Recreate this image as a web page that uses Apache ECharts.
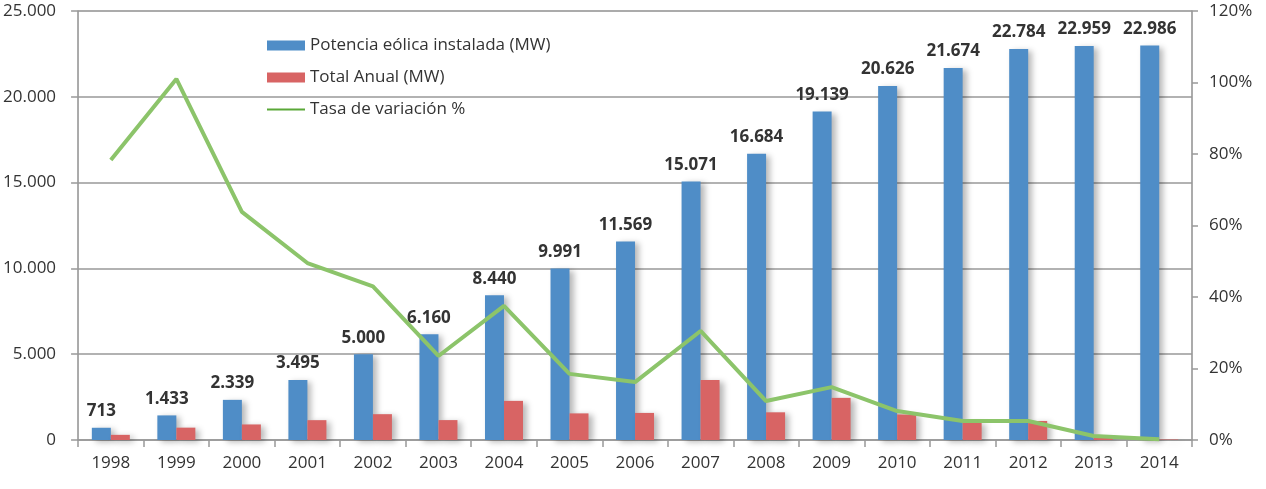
<!DOCTYPE html>
<html><head><meta charset="utf-8">
<script src="https://cdn.jsdelivr.net/npm/echarts@6/dist/echarts.min.js"></script>
<style>html,body{margin:0;padding:0;background:#fff}#c{width:1266px;height:489px}</style>
</head><body><div id="c"></div>
<script>
const years = ['1998','1999','2000','2001','2002','2003','2004','2005','2006','2007','2008','2009','2010','2011','2012','2013','2014'];
const potencia = [713,1433,2339,3495,5000,6160,8440,9991,11569,15071,16684,19139,20626,21674,22784,22959,22986];
const totalAnual = [300,720,906,1156,1505,1160,2280,1551,1578,3502,1613,2455,1487,1048,1110,175,27];
const tasa = [78.3,101,63.8,49.5,43,23.5,37.5,18.5,16.2,30.5,10.9,14.8,8.1,5.3,5.3,1.1,0.2];

const fmt = v => String(Math.round(v)).replace(/\B(?=(\d{3})+(?!\d))/g,'.');
const FONT = 'Open Sans';
const chart = echarts.init(document.getElementById('c'), null, {renderer:'canvas'});
const shadow = {shadowColor:'rgba(0,0,0,0.28)', shadowBlur:6, shadowOffsetX:4, shadowOffsetY:2};
const lineIcon = 'path://M0,0H0.01V0.01H0Z M0,4H38V6H0Z M0,9.99H0.01V10H0Z';
chart.setOption({
  animation:false,
  textStyle:{fontFamily:FONT},
  grid:{left:77,right:74,top:11,bottom:49,show:true,borderColor:'#c8c8c8',borderWidth:1},
  legend:{
    orient:'vertical', left:262, top:32, itemWidth:38, itemHeight:10, itemGap:15,
    textStyle:{fontFamily:FONT,fontSize:17,color:'#333'},
    data:[
      {name:'Potencia eólica instalada (MW)', icon:'rect'},
      {name:'Total Anual (MW)', icon:'rect'},
      {name:'Tasa de variación %', icon:lineIcon, itemStyle:{color:'#5aa838',borderWidth:0}, lineStyle:{color:'#5aa838',width:0}}
    ]
  },
  xAxis:{
    type:'category', data:years,
    axisLine:{lineStyle:{color:'#999',width:1.5}},
    axisTick:{show:true,length:7,lineStyle:{color:'#999',width:1.5}},
    axisLabel:{fontSize:17,color:'#333',margin:15,fontFamily:FONT}
  },
  yAxis:[
    {type:'value',min:0,max:25000,interval:5000,
     axisLine:{show:true,lineStyle:{color:'#999',width:1.5}},
     axisTick:{show:true,length:7,lineStyle:{color:'#999',width:1.5}},
     splitLine:{lineStyle:{color:'#999',width:1.5}},
     axisLabel:{fontSize:17,color:'#333',margin:22,formatter:fmt,fontFamily:FONT}},
    {type:'value',min:0,max:120,interval:20,position:'right',
     axisLine:{show:true,lineStyle:{color:'#999',width:1.5}},
     axisTick:{show:true,length:6,lineStyle:{color:'#999',width:1.5}},
     splitLine:{show:false},
     axisLabel:{fontSize:17,color:'#333',margin:17,formatter:v=>v+'%',fontFamily:FONT}}
  ],
  series:[
    {name:'Potencia eólica instalada (MW)',type:'bar',data:potencia,barWidth:19,barGap:'0%',
     itemStyle:Object.assign({color:'#4f8dc7'},shadow),
     label:{show:true,position:'top',distance:8,fontSize:17,fontWeight:'bold',color:'#333',formatter:p=>fmt(p.value),fontFamily:FONT}},
    {name:'Total Anual (MW)',type:'bar',data:totalAnual,barWidth:19,
     itemStyle:Object.assign({color:'#d86464'},shadow)},
    {name:'Tasa de variación %',type:'line',yAxisIndex:1,data:tasa,showSymbol:false,symbol:'none',
     lineStyle:{color:'#8cc46a',width:4},itemStyle:{color:'#8cc46a'},z:5}
  ]
});
</script></body></html>
